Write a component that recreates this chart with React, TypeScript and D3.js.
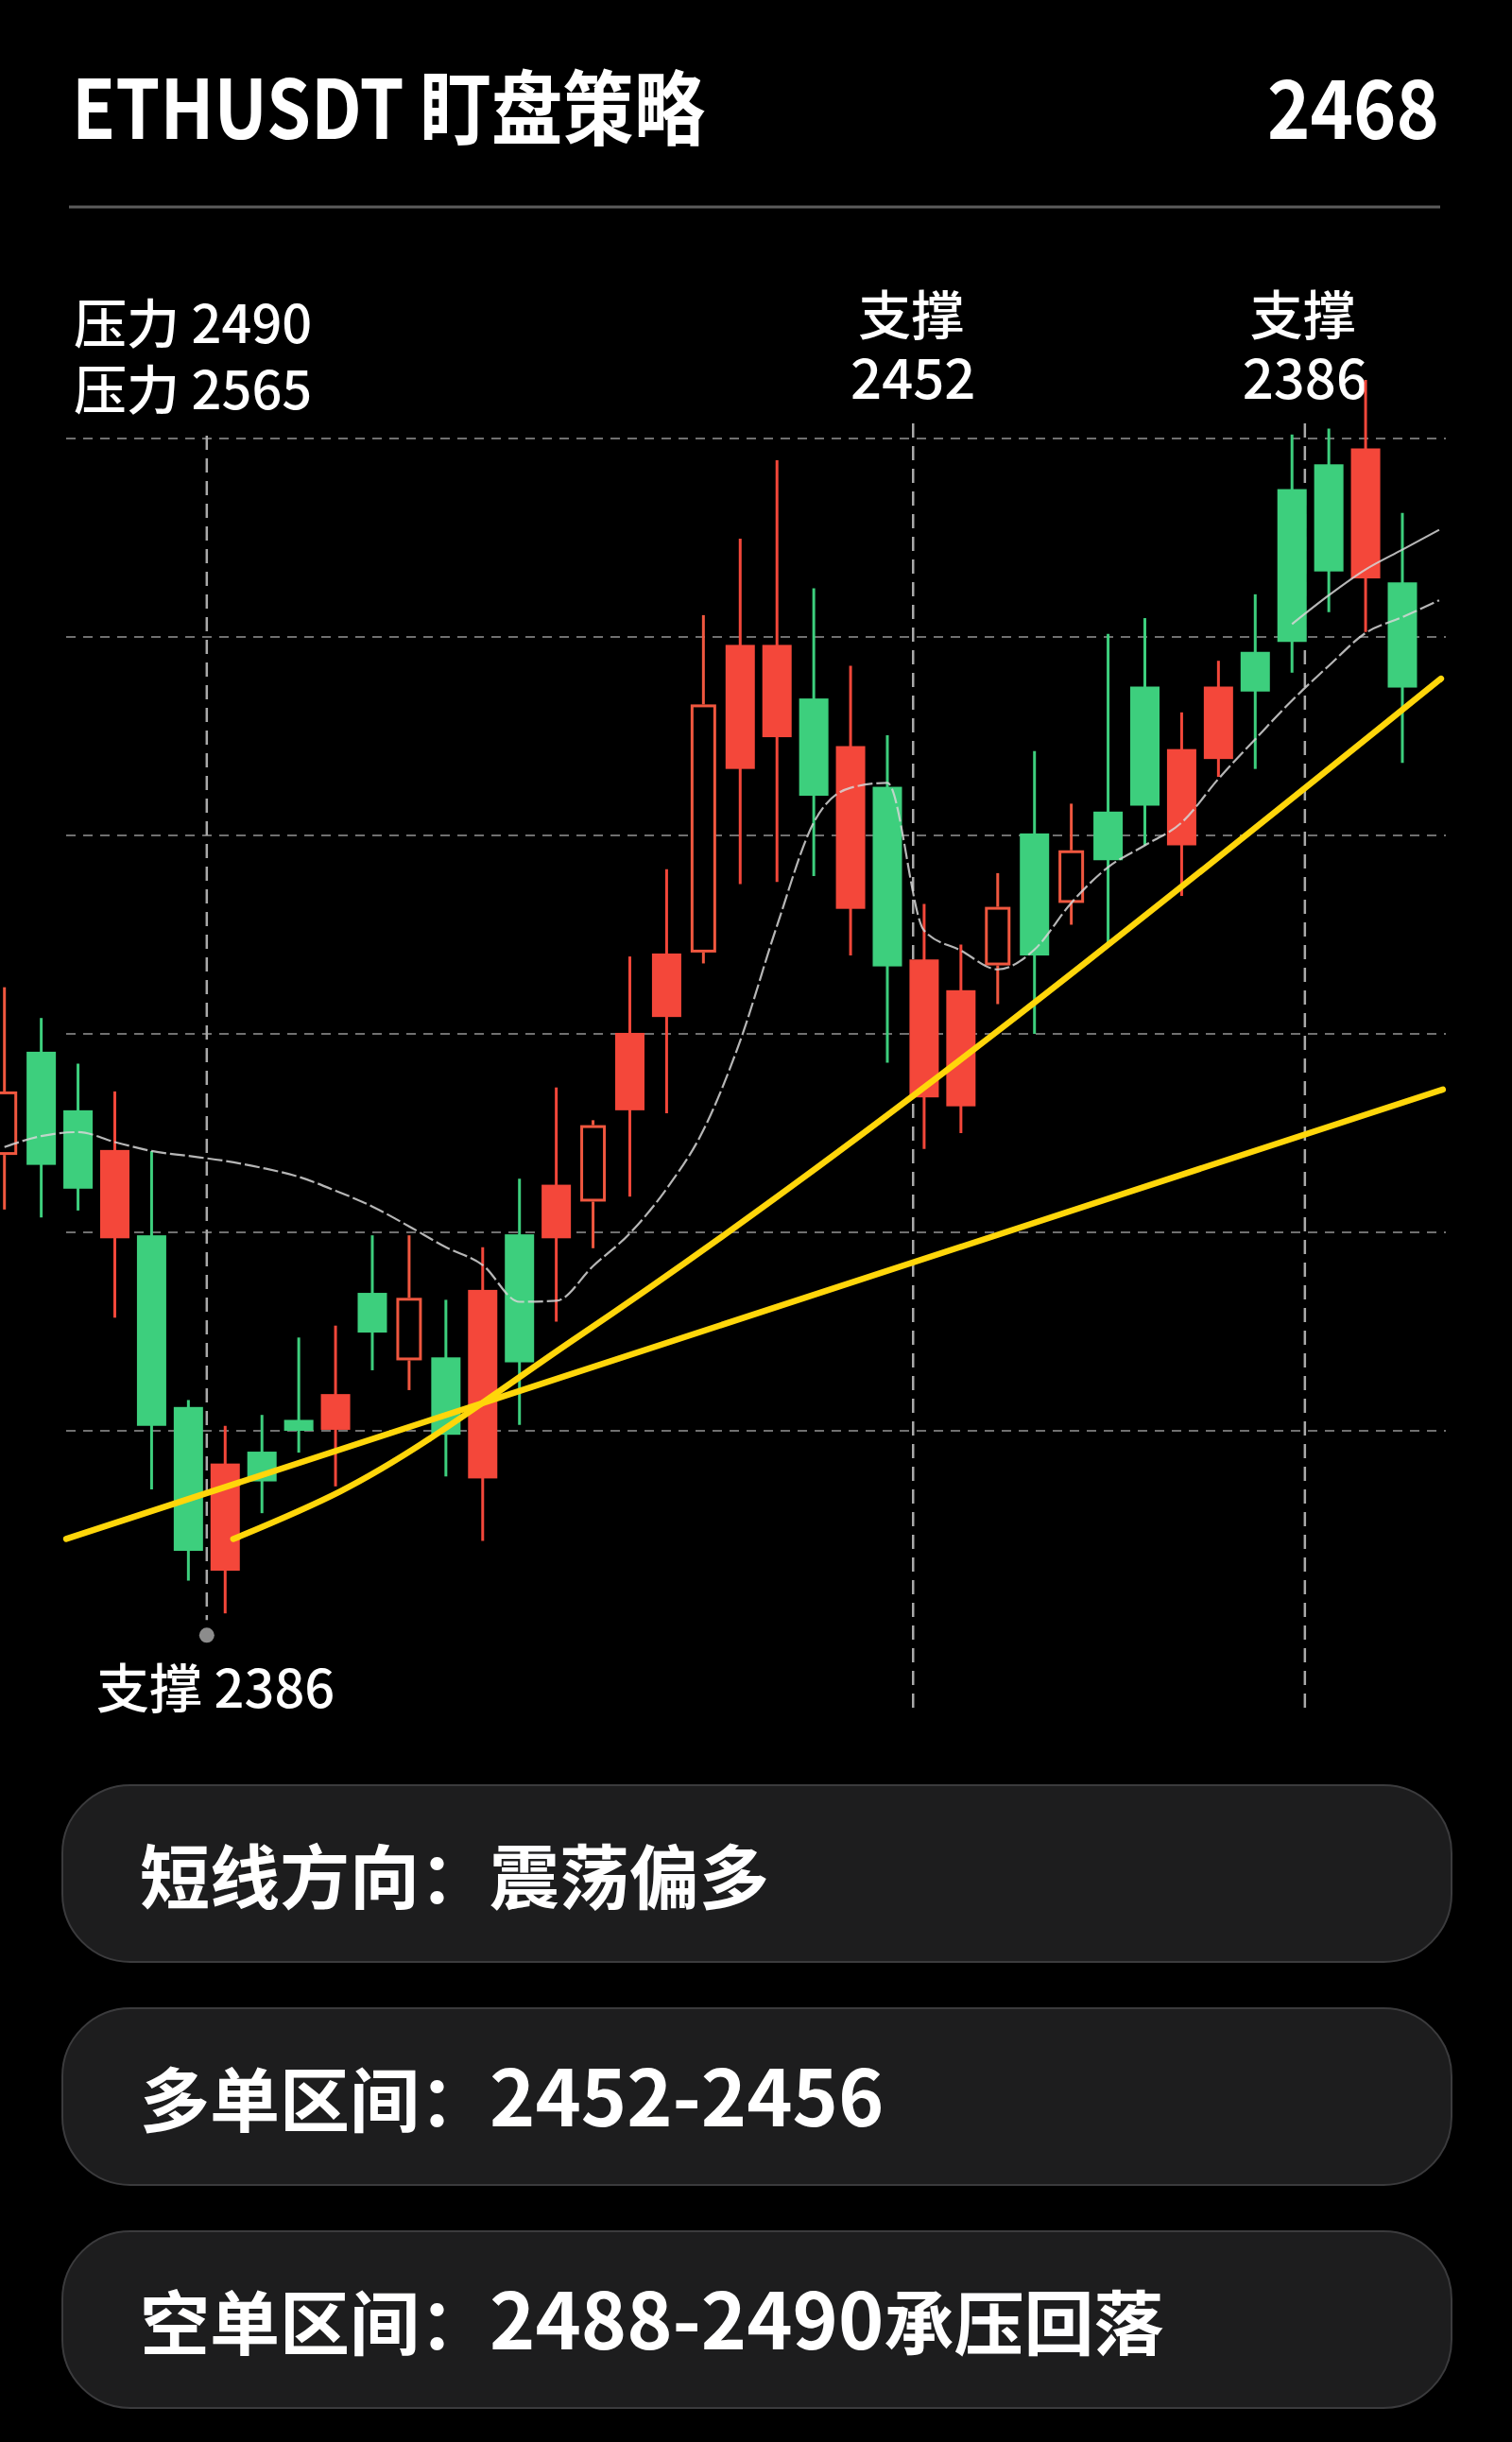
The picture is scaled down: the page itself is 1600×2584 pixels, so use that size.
import React from 'react';
import * as d3 from 'd3';

// ---------- data ----------
const titleText = 'ETHUSDT 盯盘策略';
const lastPrice = '2468';

const opens = [2427.8, 2426.8, 2424.4, 2428.3, 2400.5, 2387.9, 2396.7, 2394.9, 2400.0, 2403.7, 2409.9, 2407.1, 2399.6, 2414.2, 2406.9, 2424.8, 2423.1, 2440.1, 2448.1, 2448.2, 2479.2, 2479.2, 2464.0, 2469.0, 2446.8, 2447.5, 2444.4, 2446.9, 2447.9, 2453.2, 2457.5, 2463.0, 2468.7, 2475.0, 2474.5, 2479.5, 2486.6, 2499.0, 2474.9];
const highs = [2444.7, 2441.6, 2437.0, 2434.2, 2428.2, 2403.1, 2400.5, 2401.6, 2409.4, 2410.6, 2419.7, 2419.7, 2413.2, 2418.5, 2425.4, 2434.6, 2431.3, 2447.8, 2456.6, 2482.2, 2489.9, 2497.8, 2484.9, 2477.1, 2470.1, 2453.1, 2449.0, 2456.2, 2468.5, 2463.2, 2480.3, 2481.9, 2472.4, 2477.6, 2484.3, 2500.4, 2501.0, 2505.9, 2492.5];
const lows = [2422.3, 2421.5, 2422.2, 2411.4, 2394.1, 2384.9, 2381.6, 2391.7, 2397.8, 2394.4, 2406.1, 2404.1, 2395.4, 2388.9, 2400.6, 2411.0, 2418.4, 2423.6, 2432.0, 2447.1, 2455.1, 2455.3, 2455.9, 2447.9, 2437.1, 2428.4, 2430.0, 2443.0, 2440.0, 2451.0, 2449.0, 2459.0, 2453.9, 2465.9, 2466.7, 2476.4, 2482.5, 2480.5, 2467.3];
const closes = [2434.2, 2438.2, 2432.3, 2419.4, 2419.7, 2402.4, 2385.9, 2397.9, 2401.1, 2400.1, 2413.9, 2413.4, 2407.4, 2395.2, 2419.8, 2419.4, 2430.8, 2432.3, 2441.7, 2473.2, 2466.7, 2469.9, 2473.8, 2452.6, 2464.9, 2433.6, 2432.7, 2452.8, 2460.2, 2458.5, 2462.4, 2475.0, 2459.0, 2467.7, 2478.5, 2494.9, 2497.4, 2485.9, 2485.5];
const hollowCandles = [0, 11, 16, 19, 27, 29];

// moving averages (index -> price)
const maMain = [2428.6, 2429.7, 2430.1, 2429.1, 2428.2, 2427.7, 2427.2, 2426.5, 2425.6, 2424.2, 2422.6, 2420.6, 2418.5, 2416.7, 2413.0, 2413.1, 2416.6, 2419.9, 2424.4, 2430.3, 2439.3, 2450.9, 2461.3, 2464.8, 2465.3, 2450.4, 2448.4, 2446.5, 2448.5, 2453.2, 2456.8, 2459.0, 2461.3, 2465.7, 2469.7, 2473.6, 2477.1, 2480.4, 2482.0, 2483.7];
const maShortStart = 35;
const maShort = [2481.3, 2484.2, 2486.8, 2488.8, 2490.8];

// trend lines: [index, price]
const trendLow: [number, number][] = [[1.68, 2389.1], [39.1, 2434.4]];
const trendHigh: [number, number][] = [[6.22, 2389.1], [9.13, 2393.9], [15.6, 2409.5], [39.05, 2475.8]];

const gridPrices = [2500, 2480, 2460, 2440, 2420, 2400];
const markerIdx = [5.5, 24.7, 35.35];
const supportDotPrice = 2379.4;

const leftLabels = ['压力 2490', '压力 2565'];
const markerLabels = [
  { title: '支撑', value: '2452' },
  { title: '支撑', value: '2386' },
];
const bottomLabel = '支撑 2386';

const pillLabels = ['短线方向：', '多单区间：', '空单区间：'];
const pillValues = ['震荡偏多', '2452-2456', '2488-2490承压回落'];

// ---------- styles ----------
const GREEN = '#3dcf7d';
const RED = '#f4473a';
const HOLLOW = '#f0573f';
const YELLOW = '#ffd60a';
const FONT = "'Noto Sans CJK SC', 'Noto Sans', sans-serif";

function splitRuns(s: string) {
  const runs: { t: string; num: boolean }[] = [];
  const re = /([0-9\-]+)|([^0-9\-]+)/g;
  let m;
  while ((m = re.exec(s)) !== null) {
    runs.push({ t: m[0], num: !!m[1] });
  }
  return runs;
}

export default function App() {
  const W = 1600;
  const H = 2584;
  const x = d3.scaleLinear().domain([0, 38]).range([4.7, 1484]);
  const y = d3.scaleLinear().domain([2400, 2500]).range([1514, 464]);

  const bodyW = 31;
  const hollowW = 27;

  const maLine = d3
    .line<number>()
    .x((_, i) => x(i))
    .y((d) => y(d))
    .curve(d3.curveMonotoneX);
  const maShortLine = d3
    .line<number>()
    .x((_, i) => x(i + maShortStart))
    .y((d) => y(d))
    .curve(d3.curveMonotoneX);
  const trendLine = d3
    .line<[number, number]>()
    .x((d) => x(d[0]))
    .y((d) => y(d[1]))
    .curve(d3.curveMonotoneX);

  const candles = opens.map((o, i) => ({
    i,
    o,
    h: highs[i],
    l: lows[i],
    c: closes[i],
    hollow: hollowCandles.includes(i),
  }));

  const pillTop = [1889, 2125, 2361];
  const pillH = 187;

  return (
    <div style={{ position: 'absolute', left: 0, top: 0, width: W, height: H, background: '#000', overflow: 'hidden' }}>
      <svg width={W} height={H} viewBox={`0 0 ${W} ${H}`} style={{ display: 'block' }}>
        <rect x={0} y={0} width={W} height={H} fill="#000" />

        {/* header */}
        <text x={76} y={147} fill="#fff" fontSize={86} fontWeight={700} fontFamily={FONT} textLength={670} lengthAdjust="spacingAndGlyphs">
          {titleText}
        </text>
        <text x={1523} y={147} fill="#fff" fontSize={86} fontWeight={700} fontFamily={FONT} textAnchor="end" textLength={182} lengthAdjust="spacingAndGlyphs">
          {lastPrice}
        </text>
        <line x1={73} x2={1524} y1={219} y2={219} stroke="#5c5c5c" strokeWidth={3} />

        {/* labels */}
        {leftLabels.map((t, k) => (
          <text key={t} x={78} y={363 + k * 70} fill="#fff" fontSize={56} fontWeight={500} fontFamily={FONT}>
            {t}
          </text>
        ))}
        {markerLabels.map((m, k) => {
          const cx = x(markerIdx[k + 1]);
          return (
            <g key={k}>
              <text x={cx - 2} y={354} fill="#fff" fontSize={56} fontWeight={500} fontFamily={FONT} textAnchor="middle">
                {m.title}
              </text>
              <text x={cx} y={422} fill="#fff" fontSize={58} fontWeight={500} fontFamily={FONT} textAnchor="middle">
                {m.value}
              </text>
            </g>
          );
        })}

        {/* grid */}
        {gridPrices.map((p) => (
          <line key={p} x1={70} x2={1530} y1={y(p)} y2={y(p)} stroke="#707070" strokeWidth={2} strokeDasharray="10 8" />
        ))}

        {/* marker verticals */}
        {markerIdx.map((m, k) => (
          <line
            key={k}
            x1={x(m)}
            x2={x(m)}
            y1={k === 0 ? 461 : 448}
            y2={k === 0 ? y(supportDotPrice) - 16 : 1813}
            stroke="#a9a9a9"
            strokeWidth={2.5}
            strokeDasharray="15 9"
          />
        ))}
        <circle cx={x(markerIdx[0])} cy={y(supportDotPrice)} r={8} fill="#8c8c8c" />
        <text x={102} y={1807} fill="#fff" fontSize={56} fontWeight={500} fontFamily={FONT}>
          {bottomLabel}
        </text>

        {/* candles */}
        {candles.map((d) => {
          const cx = x(d.i);
          const top = y(Math.max(d.o, d.c));
          const bot = y(Math.min(d.o, d.c));
          if (d.hollow) {
            return (
              <g key={d.i}>
                <line x1={cx} x2={cx} y1={y(d.h)} y2={top} stroke={HOLLOW} strokeWidth={3} />
                <line x1={cx} x2={cx} y1={bot} y2={y(d.l)} stroke={HOLLOW} strokeWidth={3} />
                <rect
                  x={cx - hollowW / 2 + 1.5}
                  y={top + 1.5}
                  width={hollowW - 3}
                  height={Math.max(bot - top - 3, 1)}
                  fill="#000"
                  stroke={HOLLOW}
                  strokeWidth={3}
                />
              </g>
            );
          }
          const col = d.c >= d.o ? GREEN : RED;
          return (
            <g key={d.i}>
              <line x1={cx} x2={cx} y1={y(d.h)} y2={y(d.l)} stroke={col} strokeWidth={3} />
              <rect x={cx - bodyW / 2} y={top} width={bodyW} height={Math.max(bot - top, 2)} fill={col} />
            </g>
          );
        })}

        {/* moving averages */}
        <path d={maLine(maMain) || ''} fill="none" stroke="#d6d6d6" strokeOpacity={0.85} strokeWidth={2.2} strokeDasharray="16 4" />
        <path d={maShortLine(maShort) || ''} fill="none" stroke="#d6d6d6" strokeOpacity={0.85} strokeWidth={2.2} />

        {/* trend lines */}
        <path d={trendLine(trendLow) || ''} fill="none" stroke={YELLOW} strokeWidth={6.5} strokeLinecap="round" />
        <path d={trendLine(trendHigh) || ''} fill="none" stroke={YELLOW} strokeWidth={6.5} strokeLinecap="round" />

        {/* pills */}
        {pillLabels.map((lab, k) => {
          const top = pillTop[k];
          const base = top + pillH / 2 + 31;
          return (
            <g key={k}>
              <rect x={66} y={top} width={1470} height={pillH} rx={72} ry={72} fill="#1d1d1e" stroke="#3b3b3d" strokeWidth={2} />
              <text x={148} y={base} fill="#fff" fontSize={74} fontWeight={700} fontFamily={FONT}>
                {lab}
                {splitRuns(pillValues[k]).map((r, j) => (
                  <tspan key={j} fontSize={r.num ? 82 : 74}>
                    {r.t}
                  </tspan>
                ))}
              </text>
            </g>
          );
        })}
      </svg>
    </div>
  );
}
